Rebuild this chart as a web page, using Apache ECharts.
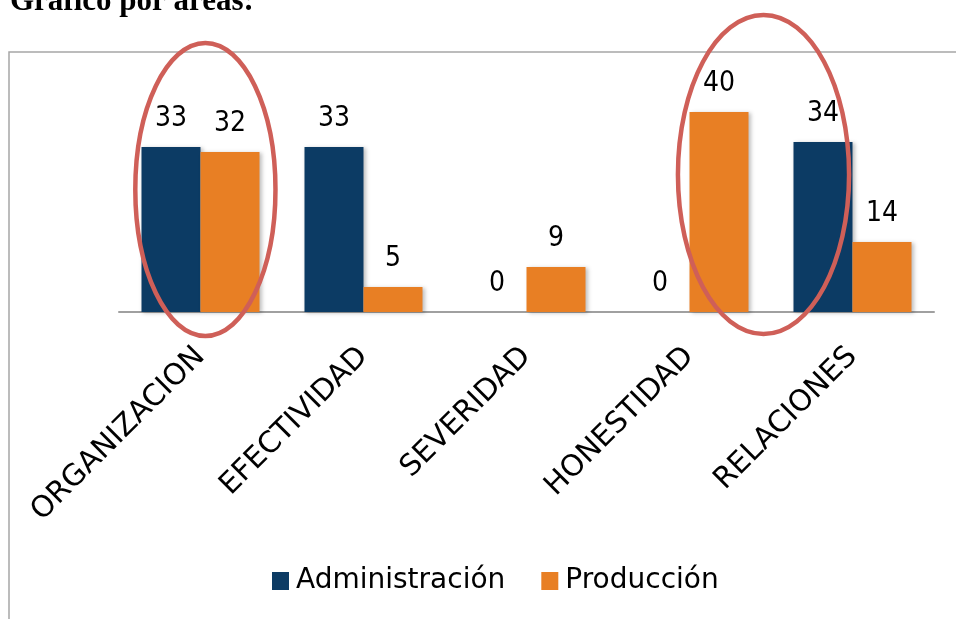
<!DOCTYPE html>
<html>
<head>
<meta charset="utf-8">
<script src="https://cdn.jsdelivr.net/npm/echarts@6/dist/echarts.min.js"></script>
<style>
  html, body { margin: 0; padding: 0; background: #ffffff; }
  #chart { width: 956px; height: 619px; }
</style>
</head>
<body>
<div id="chart"></div>
<script>
// Areas evaluated and the score of each department
const categories = ['ORGANIZACION', 'EFECTIVIDAD', 'SEVERIDAD', 'HONESTIDAD', 'RELACIONES'];
const administracion = [33, 33, 0, 0, 34];
const produccion = [32, 5, 9, 40, 14];
const seriesNames = ['Administración', 'Producción'];

const NAVY = '#0c3b64';
const ORANGE = '#e87f24';
const RING = '#cf5f58';
const DIGIT_FONT = '"DejaVu Sans Condensed", "DejaVu Sans", sans-serif';
const TEXT_FONT = '"DejaVu Sans", sans-serif';

const chart = echarts.init(document.getElementById('chart'));

const barShadow = {
  shadowColor: 'rgba(0,0,0,0.25)',
  shadowBlur: 4,
  shadowOffsetX: 2,
  shadowOffsetY: 1
};

const valueLabel = {
  show: true,
  position: 'top',
  distance: 14,
  fontFamily: DIGIT_FONT,
  fontSize: 28,
  color: '#000000'
};

chart.setOption({
  animation: false,
  backgroundColor: '#ffffff',
  grid: { left: 119, right: 22, top: 62, bottom: 307 },
  legend: {
    data: seriesNames,
    left: 267,
    top: 562,
    icon: 'rect',
    itemWidth: 17,
    itemHeight: 18,
    itemGap: 36,
    textStyle: { fontFamily: TEXT_FONT, fontSize: 28, color: '#000000', padding: [0, 0, 0, 2] }
  },
  xAxis: {
    type: 'category',
    data: categories,
    axisLine: { lineStyle: { color: '#a0a0a0', width: 2 } },
    axisTick: { show: false },
    axisLabel: {
      rotate: 45,
      margin: 40,
      interval: 0,
      fontFamily: TEXT_FONT,
      fontSize: 29.5,
      color: '#000000'
    }
  },
  yAxis: {
    type: 'value',
    min: 0,
    max: 50,
    show: false,
    splitLine: { show: false }
  },
  series: [
    {
      name: seriesNames[0],
      type: 'bar',
      data: administracion,
      barGap: '0%',
      barCategoryGap: '27.6%',
      itemStyle: Object.assign({ color: NAVY }, barShadow),
      label: valueLabel
    },
    {
      name: seriesNames[1],
      type: 'bar',
      data: produccion,
      itemStyle: Object.assign({ color: ORANGE }, barShadow),
      label: valueLabel
    }
  ]
});

// Chart frame, heading and the two highlight rings around the bars
function drawOverlay() {
  const px = (cat, v) => chart.convertToPixel({ gridIndex: 0 }, [cat, v]);
  const org = px(categories[0], 0);
  const hon = px(categories[3], 0);
  const rel = px(categories[4], 0);
  const step = rel[0] - hon[0];
  const base = org[1];
  const unit = base - px(categories[0], 1)[1];

  chart.setOption({
    graphic: [
      {
        type: 'rect',
        silent: true,
        shape: { x: 9, y: 52, width: 980, height: 620 },
        style: { fill: 'none', stroke: '#a6a6a6', lineWidth: 1.5 },
        z: -1
      },
      {
        type: 'text',
        left: 10,
        top: -14,
        style: {
          text: 'Gráfico por áreas:',
          font: 'bold 31px "Liberation Serif", "Times New Roman", serif',
          fill: '#000000'
        }
      },
      {
        type: 'ellipse',
        silent: true,
        shape: {
          cx: org[0] + step * 0.03,
          cy: base - unit * 24.5,
          rx: step * 0.43,
          ry: unit * 29.3
        },
        style: { fill: 'none', stroke: RING, lineWidth: 4.5 },
        z: 10
      },
      {
        type: 'ellipse',
        silent: true,
        shape: {
          cx: (hon[0] + rel[0]) / 2 - step * 0.046,
          cy: base - unit * 27.5,
          rx: step * 0.525,
          ry: unit * 31.9
        },
        style: { fill: 'none', stroke: RING, lineWidth: 4.5 },
        z: 10
      }
    ]
  });
}
drawOverlay();
</script>
</body>
</html>
